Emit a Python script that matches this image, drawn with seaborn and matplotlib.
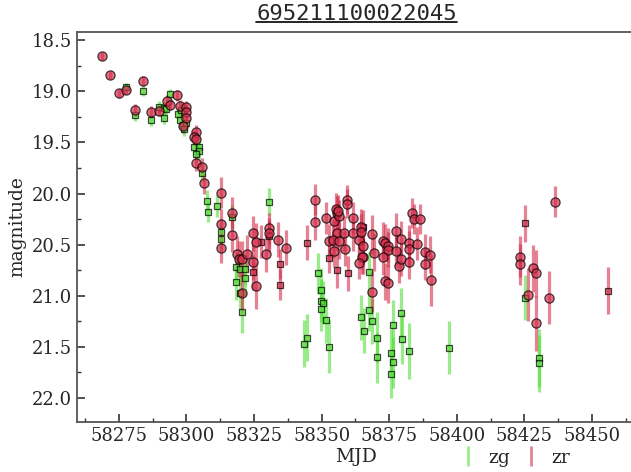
import numpy as np
import pandas as pd
import matplotlib
matplotlib.use("Agg")
import matplotlib.pyplot as plt
from matplotlib.lines import Line2D
import seaborn as sns

# ---- light-curve data (ZTF g and r bands) ----
zg_mjd = [58277.8, 58283.8, 58280.8, 58286.7, 58289.8, 58291.6, 58291.8, 58292.5, 58293.8, 58296.7,
          58297.8, 58297.6, 58298.6, 58299.8, 58299.2, 58302.7, 58304.5, 58304.7, 58303.5, 58305.8,
          58307.7, 58307.8, 58311.4, 58330.6, 58312.6, 58312.6, 58316.7, 58318.5, 58319.8, 58321.6,
          58318.5, 58319.8, 58321.6, 58320.6, 58348.6, 58349.6, 58349.6, 58350.6, 58349.6, 58351.6,
          58344.4, 58343.6, 58352.6, 58367.5, 58367.5, 58364.4, 58365.6, 58368.5, 58370.4, 58370.4,
          58375.5, 58376.3, 58375.5, 58376.5, 58379.4, 58379.6, 58382.4, 58397.2, 58425.2, 58430.3,
          58430.3]
zg_mag = [18.96, 19.00, 19.23, 19.28, 19.15, 19.16, 19.26, 19.17, 19.03, 19.22,
          19.18, 19.28, 19.33, 19.31, 19.37, 19.54, 19.54, 19.58, 19.61, 19.80,
          20.07, 20.18, 20.12, 20.08, 20.38, 20.44, 20.23, 20.72, 20.74, 20.74,
          20.87, 20.97, 20.83, 21.16, 20.78, 20.94, 21.05, 21.07, 21.13, 21.24,
          21.41, 21.47, 21.50, 20.77, 21.14, 21.21, 21.34, 21.25, 21.41, 21.60,
          21.56, 21.65, 21.77, 21.29, 21.17, 21.42, 21.54, 21.51, 21.02, 21.61,
          21.66]
zg_err = [0.04, 0.05, 0.06, 0.06, 0.06, 0.06, 0.06, 0.06, 0.05, 0.06,
          0.06, 0.07, 0.07, 0.07, 0.07, 0.08, 0.08, 0.08, 0.08, 0.09,
          0.10, 0.10, 0.11, 0.13, 0.12, 0.12, 0.12, 0.15, 0.15, 0.15,
          0.17, 0.17, 0.17, 0.20, 0.20, 0.21, 0.21, 0.21, 0.21, 0.22,
          0.23, 0.23, 0.26, 0.20, 0.20, 0.22, 0.22, 0.22, 0.25, 0.25,
          0.23, 0.25, 0.23, 0.25, 0.25, 0.25, 0.27, 0.26, 0.22, 0.28,
          0.28]

zr_mjd = [58268.8, 58271.8, 58274.9, 58277.8, 58280.8, 58283.8, 58286.7, 58289.8, 58292.9, 58293.8,
          58296.6, 58297.6, 58299.7, 58299.8, 58299.8, 58298.8, 58303.7, 58302.7, 58303.7, 58303.7,
          58305.8, 58306.6, 58312.6, 58316.7, 58312.6, 58316.8, 58312.6, 58318.7, 58319.5, 58320.6,
          58322.5, 58324.7, 58325.7, 58324.6, 58325.8, 58320.6, 58329.6, 58330.4, 58330.4, 58333.7,
          58336.7, 58347.5, 58347.5, 58351.5, 58352.6, 58354.4, 58355.5, 58355.3, 58356.5, 58356.0,
          58355.5, 58354.1, 58356.5, 58354.5, 58358.5, 58358.3, 58359.4, 58359.4, 58361.5, 58361.5,
          58363.7, 58364.5, 58364.5, 58365.4, 58365.4, 58364.8, 58363.7, 58368.5, 58369.4, 58368.5,
          58372.6, 58373.4, 58374.6, 58374.6, 58372.6, 58373.4, 58374.4, 58377.5, 58377.5, 58378.5,
          58379.4, 58379.4, 58382.4, 58382.4, 58382.4, 58383.4, 58384.1, 58386.4, 58385.4, 58388.3,
          58388.3, 58390.1, 58390.3, 58423.4, 58423.4, 58428.3, 58429.3, 58426.2, 58429.3, 58434.2,
          58436.2,
          58327.5, 58324.5, 58334.6, 58334.6, 58344.7, 58355.5, 58359.6, 58365.4, 58352.6, 58330.6,
          58425.2, 58456.1]
zr_mag = [18.65, 18.84, 19.02, 18.99, 19.18, 18.90, 19.20, 19.19, 19.09, 19.13,
          19.04, 19.14, 19.15, 19.20, 19.26, 19.34, 19.40, 19.45, 19.47, 19.70,
          19.74, 19.90, 19.99, 20.19, 20.30, 20.41, 20.53, 20.59, 20.64, 20.64,
          20.59, 20.39, 20.47, 20.67, 20.90, 20.97, 20.59, 20.34, 20.39, 20.45,
          20.53, 20.06, 20.28, 20.24, 20.46, 20.27, 20.19, 20.15, 20.22, 20.17,
          20.39, 20.45, 20.46, 20.56, 20.54, 20.39, 20.06, 20.10, 20.24, 20.39,
          20.45, 20.33, 20.38, 20.51, 20.62, 20.62, 20.68, 20.40, 20.58, 20.96,
          20.46, 20.48, 20.51, 20.55, 20.62, 20.86, 20.88, 20.37, 20.56, 20.71,
          20.44, 20.64, 20.48, 20.54, 20.67, 20.19, 20.25, 20.25, 20.49, 20.57,
          20.69, 20.60, 20.85, 20.62, 20.69, 20.73, 20.78, 20.99, 21.27, 21.02,
          20.08,
          20.47, 20.77, 20.69, 20.89, 20.48, 20.75, 20.78, 20.33, 20.63, 20.42,
          20.29, 20.95]
zr_err = [0.04, 0.04, 0.04, 0.04, 0.06, 0.05, 0.06, 0.05, 0.05, 0.05,
          0.05, 0.06, 0.06, 0.06, 0.06, 0.07, 0.07, 0.07, 0.08, 0.08,
          0.09, 0.10, 0.15, 0.16, 0.15, 0.16, 0.15, 0.17, 0.18, 0.18,
          0.18, 0.17, 0.18, 0.18, 0.23, 0.20, 0.18, 0.15, 0.15, 0.17,
          0.17, 0.15, 0.17, 0.16, 0.16, 0.16, 0.17, 0.16, 0.16, 0.16,
          0.17, 0.18, 0.18, 0.16, 0.17, 0.17, 0.14, 0.14, 0.16, 0.17,
          0.17, 0.18, 0.18, 0.18, 0.17, 0.17, 0.16, 0.19, 0.18, 0.20,
          0.18, 0.18, 0.17, 0.17, 0.18, 0.18, 0.19, 0.18, 0.16, 0.17,
          0.17, 0.17, 0.17, 0.17, 0.17, 0.15, 0.15, 0.15, 0.16, 0.17,
          0.16, 0.18, 0.25, 0.20, 0.20, 0.23, 0.23, 0.26, 0.27, 0.26,
          0.15,
          0.16, 0.17, 0.15, 0.15, 0.17, 0.17, 0.17, 0.17, 0.15, 0.15,
          0.18, 0.23]
# marker shape per zr detection: circles, then the square-marked epochs
zr_shape = ["o"] * 101 + ["s"] * 12

object_id = "695211100022045"
band_colors = {"zg": "#56E03A", "zr": "#D42F4B"}

zg = pd.DataFrame({"mjd": zg_mjd, "mag": zg_mag, "err": zg_err, "shape": "s"})
zr = pd.DataFrame({"mjd": zr_mjd, "mag": zr_mag, "err": zr_err, "shape": zr_shape})

sns.set_style("white")
plt.rcParams["font.family"] = ["DejaVu Serif"]

fig = plt.figure(figsize=(6.31, 4.72), dpi=100)
ax = fig.add_axes([0.122, 0.106, 0.886, 0.826])

for band, df in (("zg", zg), ("zr", zr)):
    color = band_colors[band]
    ax.errorbar(df["mjd"], df["mag"], yerr=df["err"], fmt="none",
                ecolor=color, elinewidth=2.3, alpha=0.6, zorder=2)
    for shape, size in (("s", 22), ("o", 44)):
        sub = df[df["shape"] == shape]
        if len(sub):
            sns.scatterplot(data=sub, x="mjd", y="mag", ax=ax, marker=shape,
                            s=size, color=color, edgecolor="black",
                            linewidth=0.9, alpha=0.7, zorder=3, legend=False)

ax.set_xlim(58259.5, 58466.3)
ax.set_ylim(22.235, 18.42)
ax.xaxis.set_major_locator(matplotlib.ticker.MultipleLocator(25))
ax.xaxis.set_minor_locator(matplotlib.ticker.MultipleLocator(12.5))
ax.yaxis.set_major_locator(matplotlib.ticker.MultipleLocator(0.5))
ax.yaxis.set_minor_locator(matplotlib.ticker.MultipleLocator(0.25))
ax.tick_params(which="both", direction="in", labelsize=13, color="#333333",
               bottom=True, left=True, top=False, right=False)
ax.tick_params(which="major", length=6, width=1.2)
ax.tick_params(which="minor", length=3, width=1.0)
for side in ("left", "bottom", "top", "right"):
    ax.spines[side].set_color("#555555")
    ax.spines[side].set_linewidth(1.3)

ax.set_xlabel("MJD", fontsize=13.5, labelpad=2)
ax.set_ylabel("magnitude", fontsize=13.5, labelpad=4)
title = ax.set_title(object_id, fontsize=16, pad=9, family="DejaVu Sans Mono")

handles = [Line2D([], [], color=band_colors[b], marker="|", linestyle="None",
                  markersize=15, markeredgewidth=2, alpha=0.6) for b in ("zg", "zr")]
fig.legend(handles, ["zg", "zr"], ncol=2, frameon=False, fontsize=13.5,
           loc="center", bbox_to_anchor=(514 / 631, 1 - 458 / 472),
           handlelength=1.0, handletextpad=0.6, columnspacing=0.6)

# underline the title
fig.canvas.draw()
bb = title.get_window_extent().transformed(fig.transFigure.inverted())
uy = bb.y0 + 0.004
fig.add_artist(Line2D([bb.x0, bb.x1], [uy, uy], transform=fig.transFigure,
                      color="black", linewidth=1.2))

fig.savefig("out.png", dpi=100)
